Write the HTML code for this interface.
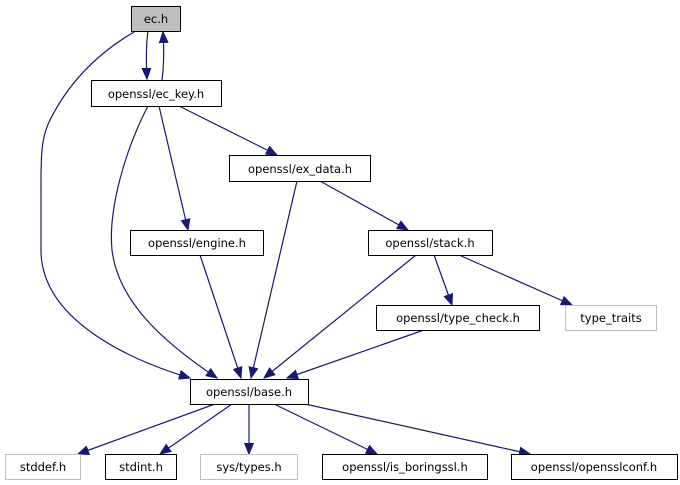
<!DOCTYPE html>
<html><head><meta charset="utf-8"><style>
html,body{margin:0;padding:0;background:#fff;}
svg{display:block;}
text{font-family:"DejaVu Sans","Liberation Sans",sans-serif;font-size:11.5px;fill:#000;}
</style></head><body>
<svg width="680" height="485" viewBox="0 0 680 485" xmlns="http://www.w3.org/2000/svg">
<defs>
<marker id="a" markerUnits="userSpaceOnUse" markerWidth="12" markerHeight="10" refX="11" refY="5" orient="auto">
<path d="M0,0.5 L11,5 L0,9.5 Z" fill="#191970" stroke="#191970"/>
</marker>
</defs>
<g fill="none" stroke="#191970" stroke-width="1.2" marker-end="url(#a)">
<path d="M148,31 C146,45 146,60 147,79"/>
<path d="M162,80 C164,65 164,48 163,32"/>
<path d="M134,32 C100,52 70,80 50,120 C40,140 41,160 41,200 L41,250 C41,320 130,360 190,378"/>
<path d="M148,106 C125,150 108,210 112,250 C118,300 160,340 217,378"/>
<path d="M159,106 L188,230"/>
<path d="M179,106 L277,155"/>
<path d="M297,181 L251,378"/>
<path d="M320,181 L408,230"/>
<path d="M200,255 L241,378"/>
<path d="M416,255 L264,378"/>
<path d="M434,255 L452,305"/>
<path d="M459,255 L572,305"/>
<path d="M424,330 L287,378"/>
<path d="M215,404 L78,454"/>
<path d="M232,404 L160,454"/>
<path d="M249,404 L249,454"/>
<path d="M274,404 L377,454"/>
<path d="M305,404 L530,454"/>
</g>
<g stroke-width="1">
<rect x="131.5" y="6.5" width="49" height="25" fill="#bfbfbf" stroke="#000"/>
<rect x="91.5" y="80.5" width="130" height="26" fill="#fff" stroke="#000"/>
<rect x="229.5" y="155.5" width="141" height="26" fill="#fff" stroke="#000"/>
<rect x="130.5" y="230.5" width="133" height="25" fill="#fff" stroke="#000"/>
<rect x="368.5" y="230.5" width="124" height="25" fill="#fff" stroke="#000"/>
<rect x="376.5" y="305.5" width="163" height="25" fill="#fff" stroke="#000"/>
<rect x="565.5" y="305.5" width="91" height="25" fill="#fff" stroke="#bfbfbf"/>
<rect x="190.5" y="379.5" width="118" height="25" fill="#fff" stroke="#000"/>
<rect x="5.5" y="454.5" width="75" height="25" fill="#fff" stroke="#bfbfbf"/>
<rect x="105.5" y="454.5" width="71" height="25" fill="#fff" stroke="#000"/>
<rect x="200.5" y="454.5" width="97" height="25" fill="#fff" stroke="#bfbfbf"/>
<rect x="322.5" y="454.5" width="165" height="25" fill="#fff" stroke="#000"/>
<rect x="511.5" y="454.5" width="166" height="25" fill="#fff" stroke="#000"/>
</g>
<g text-anchor="middle">
<text x="156" y="23">ec.h</text>
<text x="156" y="98">openssl/ec_key.h</text>
<text x="300" y="173">openssl/ex_data.h</text>
<text x="197" y="247">openssl/engine.h</text>
<text x="430" y="247">openssl/stack.h</text>
<text x="458" y="322">openssl/type_check.h</text>
<text x="611" y="322">type_traits</text>
<text x="249" y="396">openssl/base.h</text>
<text x="43" y="471">stddef.h</text>
<text x="141" y="471">stdint.h</text>
<text x="249" y="471">sys/types.h</text>
<text x="405" y="471">openssl/is_boringssl.h</text>
<text x="594" y="471">openssl/opensslconf.h</text>
</g>
</svg>
</body></html>
